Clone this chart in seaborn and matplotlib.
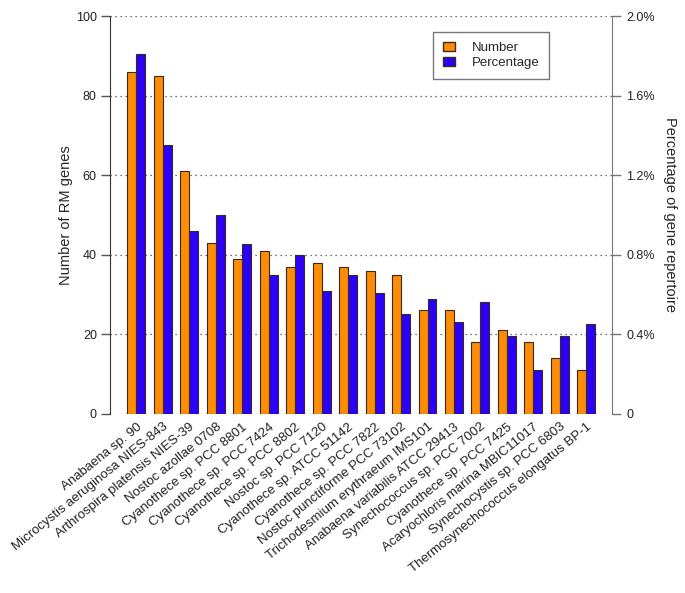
import numpy as np
import pandas as pd
import seaborn as sns
import matplotlib.pyplot as plt
from matplotlib.patches import Patch

species = [
    "Anabaena sp. 90",
    "Microcystis aeruginosa NIES-843",
    "Arthrospira platensis NIES-39",
    "Nostoc azollae 0708",
    "Cyanothece sp. PCC 8801",
    "Cyanothece sp. PCC 7424",
    "Cyanothece sp. PCC 8802",
    "Nostoc sp. PCC 7120",
    "Cyanothece sp. ATCC 51142",
    "Cyanothece sp. PCC 7822",
    "Nostoc punctiforme PCC 73102",
    "Trichodesmium erythraeum IMS101",
    "Anabaena variabilis ATCC 29413",
    "Synechococcus sp. PCC 7002",
    "Cyanothece sp. PCC 7425",
    "Acaryochloris marina MBIC11017",
    "Synechocystis sp. PCC 6803",
    "Thermosynechococcus elongatus BP-1",
]
rm_number = [86, 85, 61, 43, 39, 41, 37, 38, 37, 36, 35, 26, 26, 18, 21, 18, 14, 11]
rm_percent = [1.81, 1.35, 0.92, 1.00, 0.856, 0.70, 0.80, 0.62, 0.70, 0.606,
              0.50, 0.58, 0.46, 0.565, 0.39, 0.22, 0.39, 0.45]

left_ticks = [0, 20, 40, 60, 80, 100]
right_ticks = [0, 0.4, 0.8, 1.2, 1.6, 2.0]
right_labels = ["0", "0.4%", "0.8%", "1.2%", "1.6%", "2.0%"]

orange = "#FF8C06"
blue = "#2A00F8"
series = ["Number", "Percentage"]


def make_frame():
    # long format; each axis only gets values for its own series
    n = len(species)
    df = pd.DataFrame({
        "species": species * 2,
        "series": ["Number"] * n + ["Percentage"] * n,
        "num": rm_number + [np.nan] * n,
        "pct": [np.nan] * n + rm_percent,
    })
    return df


def main():
    sns.set_style("white")
    plt.rcParams["font.family"] = ["Liberation Sans", "DejaVu Sans"]

    df = make_frame()
    fig = plt.figure(figsize=(6.85, 5.93), dpi=100)
    ax = fig.add_axes([0.1606, 0.302, 0.7327, 0.671])
    ax2 = ax.twinx()

    common = dict(x="species", hue="series", hue_order=series, order=species,
                  palette=[orange, blue], saturation=1, width=0.68, dodge=True, gap=0,
                  errorbar=None, edgecolor="#3a2a1a", linewidth=0.8, legend=False)
    sns.barplot(data=df, y="num", ax=ax, **common)
    sns.barplot(data=df, y="pct", ax=ax2, **common)

    ax.set_xlim(-1.0, len(species) - 0.03)
    ax.set_ylim(0, 100)
    ax2.set_ylim(0, 2.0)
    ax.set_yticks(left_ticks)
    ax2.set_yticks(right_ticks)
    ax2.set_yticklabels(right_labels)

    for y in left_ticks:
        ax.axhline(y, color="#444444", linestyle=(0, (1, 3)), linewidth=0.9, zorder=0)

    for a in (ax, ax2):
        a.spines["top"].set_visible(False)
        a.spines["bottom"].set_visible(False)
        a.set_xlabel("")
    ax.spines["right"].set_visible(False)
    ax2.spines["left"].set_visible(False)
    ax.spines["left"].set_color("#333333")
    ax2.spines["right"].set_color("#777777")

    ax.tick_params(axis="y", left=True, length=6.5, width=1, color="#555555",
                   labelsize=9, pad=3, labelcolor="#222222")
    ax2.tick_params(axis="y", right=True, length=6.5, width=1, color="#777777",
                    labelsize=9, pad=4, labelcolor="#222222")
    ax.tick_params(axis="x", bottom=False, length=0, pad=5)

    ax.set_xticks(range(len(species)))
    ax.set_xticklabels(species, rotation=39, ha="right", rotation_mode="anchor",
                       fontsize=9.5, color="#222222")

    ax.set_ylabel("Number of RM genes", fontsize=10.5, labelpad=2)
    ax2.set_ylabel("Percentage of gene repertoire", fontsize=10.5,
                   rotation=270, labelpad=16)

    handles = [Patch(facecolor=orange, edgecolor="#3a2a1a"),
               Patch(facecolor=blue, edgecolor="#3a2a1a")]
    leg = ax2.legend(handles, series, loc="upper left", bbox_to_anchor=(0.643, 0.96),
                     borderaxespad=0, fontsize=9.5, frameon=True, fancybox=False,
                     handlelength=0.9, handleheight=0.7, borderpad=0.75,
                     labelspacing=0.2, handletextpad=1.3)
    leg.get_frame().set_edgecolor("#555555")
    leg.get_frame().set_linewidth(1.0)

    fig.savefig("out.png", dpi=100)


if __name__ == "__main__":
    main()
